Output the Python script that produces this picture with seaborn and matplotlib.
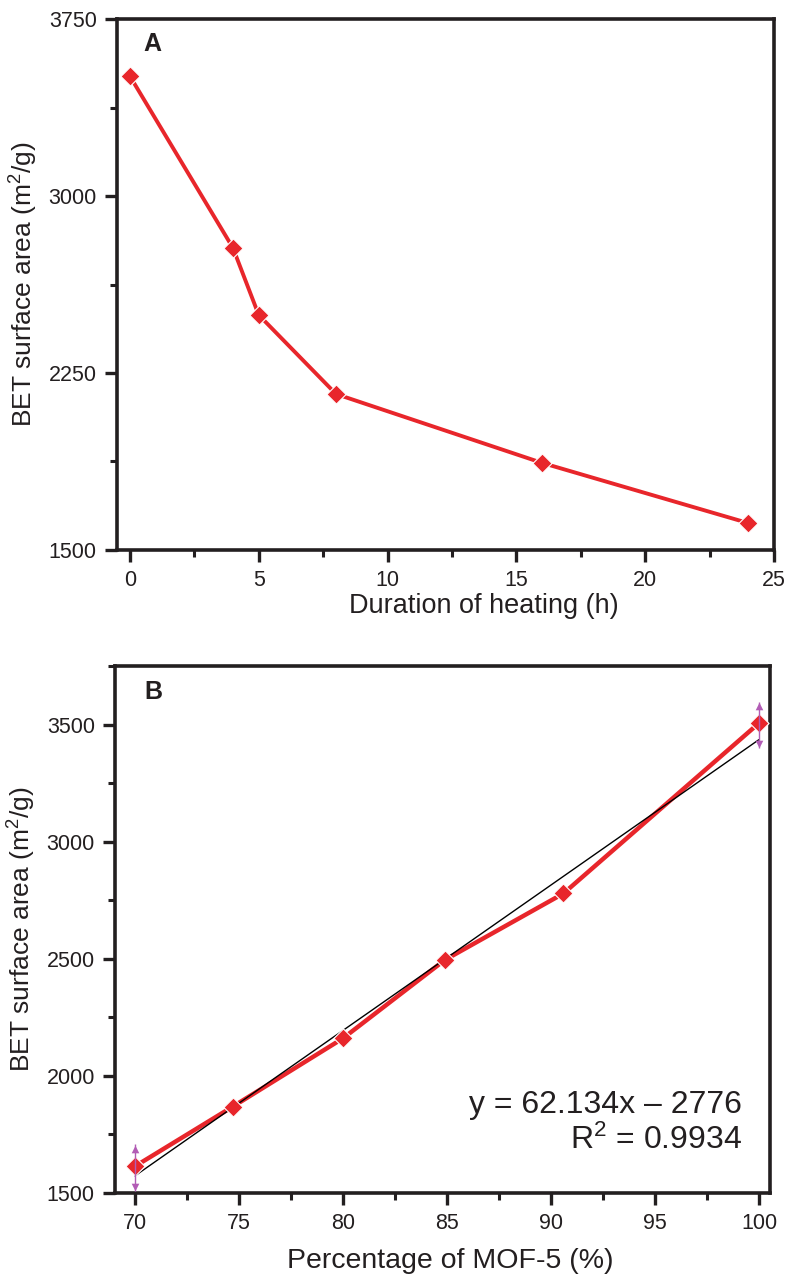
import numpy as np
import pandas as pd
import matplotlib
matplotlib.use("Agg")
import matplotlib.pyplot as plt
import seaborn as sns

# ---- data ----
hours = [0, 4, 5, 8, 16, 24]
bet_area = [3508, 2780, 2496, 2161, 1869, 1614]
mof_pct = [100, 90.6, 84.9, 80, 74.7, 70]
err_x = [70, 100]
err_y = [1608, 3500]
err_val = [100, 100]
fit_slope = 62.134
fit_intercept = -2776
fit_range = [70, 100]
eq_text = "y = 62.134x \u2013 2776"
r2_text = "R$^2$ = 0.9934"

sns.set_style("ticks")
plt.rcParams["font.family"] = ["Liberation Sans", "DejaVu Sans"]
plt.rcParams["mathtext.fontset"] = "custom"
plt.rcParams["mathtext.rm"] = "Liberation Sans"
plt.rcParams["mathtext.it"] = "Liberation Sans:italic"
plt.rcParams["mathtext.bf"] = "Liberation Sans:bold"

INK = "#231f20"
RED = "#e8262b"
MAG = "#b25cb5"

fig = plt.figure(figsize=(7.88, 12.78), dpi=100)
axA = fig.add_axes([117/788, 1-550/1278, (774-117)/788, (550-19)/1278])
axB = fig.add_axes([115/788, 1-1193/1278, (770-115)/788, (1193-666)/1278])

def style(ax):
    for s in ax.spines.values():
        s.set_linewidth(2.6)
        s.set_color(INK)
    ax.tick_params(which="major", direction="out", length=8.5, width=2.4,
                   color=INK, labelsize=15.5, labelcolor=INK, pad=6,
                   top=False, right=False)
    ax.tick_params(which="minor", direction="out", length=5, width=2.2,
                   color=INK, top=False, right=False)

# ---- panel A ----
dfA = pd.DataFrame({"h": hours, "bet": bet_area})
sns.lineplot(data=dfA, x="h", y="bet", ax=axA, color=RED, linewidth=2.8, zorder=2)
sns.scatterplot(data=dfA, x="h", y="bet", ax=axA, marker="D", s=95, color=RED,
                edgecolor="white", linewidth=0.8, zorder=4)
axA.set_xlim(-0.5, 25)
axA.set_ylim(1500, 3750)
axA.set_xticks([0, 5, 10, 15, 20, 25])
axA.set_xticks(np.arange(2.5, 25, 5), minor=True)
axA.set_yticks([1500, 2250, 3000, 3750])
axA.set_yticks([1875, 2625, 3375], minor=True)
style(axA)
axA.set_xlabel("Duration of heating (h)", fontsize=19.5, color=INK)
axA.xaxis.set_label_coords((484 - 117) / (774 - 117), -(593 - 550) / (550 - 19))
axA.set_ylabel("BET surface area (m$^2$/g)", fontsize=19, color=INK, labelpad=6)
axA.text(0.04, 0.953, "A", transform=axA.transAxes, fontsize=18,
         fontweight="bold", color=INK, va="center", ha="left")

# ---- panel B ----
dfB = pd.DataFrame({"p": mof_pct, "bet": bet_area})
sns.lineplot(data=dfB, x="p", y="bet", ax=axB, color=RED, linewidth=3.2, zorder=2)
fit_x = np.array(fit_range, dtype=float)
dfFit = pd.DataFrame({"p": fit_x, "fit": fit_slope * fit_x + fit_intercept})
sns.lineplot(data=dfFit, x="p", y="fit", ax=axB, color="black", linewidth=1.0, zorder=3)
axB.errorbar(err_x, err_y, yerr=err_val, fmt="none", ecolor=MAG, elinewidth=1.0,
             capsize=0, zorder=5)
ex = np.array(err_x); ey = np.array(err_y); ev = np.array(err_val)
axB.scatter(ex, ey + ev * 0.82, marker="^", s=30, color=MAG, zorder=5, linewidths=0)
axB.scatter(ex, ey - ev * 0.82, marker="v", s=30, color=MAG, zorder=5, linewidths=0)
sns.scatterplot(data=dfB, x="p", y="bet", ax=axB, marker="D", s=95, color=RED,
                edgecolor="white", linewidth=0.8, zorder=4)
axB.set_xlim(69.04, 100.53)
axB.set_ylim(1500, 3752)
axB.set_xticks(np.arange(70, 101, 5))
axB.set_xticks(np.arange(72.5, 100, 5), minor=True)
axB.set_yticks([1500, 2000, 2500, 3000, 3500])
axB.set_yticks([1750, 2250, 2750, 3250, 3750], minor=True)
style(axB)
axB.set_xlabel("Percentage of MOF-5 (%)", fontsize=20.5, color=INK)
axB.xaxis.set_label_coords((450 - 115) / (770 - 115), -(1248 - 1193) / (1193 - 666))
axB.set_ylabel("BET surface area (m$^2$/g)", fontsize=19, color=INK, labelpad=6)
axB.text(0.045, 0.95, "B", transform=axB.transAxes, fontsize=18,
         fontweight="bold", color=INK, va="center", ha="left")
axB.text(0.957, 0.167, eq_text, transform=axB.transAxes, fontsize=23,
         color=INK, ha="right", va="center")
axB.text(0.957, 0.100, r2_text, transform=axB.transAxes, fontsize=23,
         color=INK, ha="right", va="center")

fig.savefig("out.png", dpi=100)
